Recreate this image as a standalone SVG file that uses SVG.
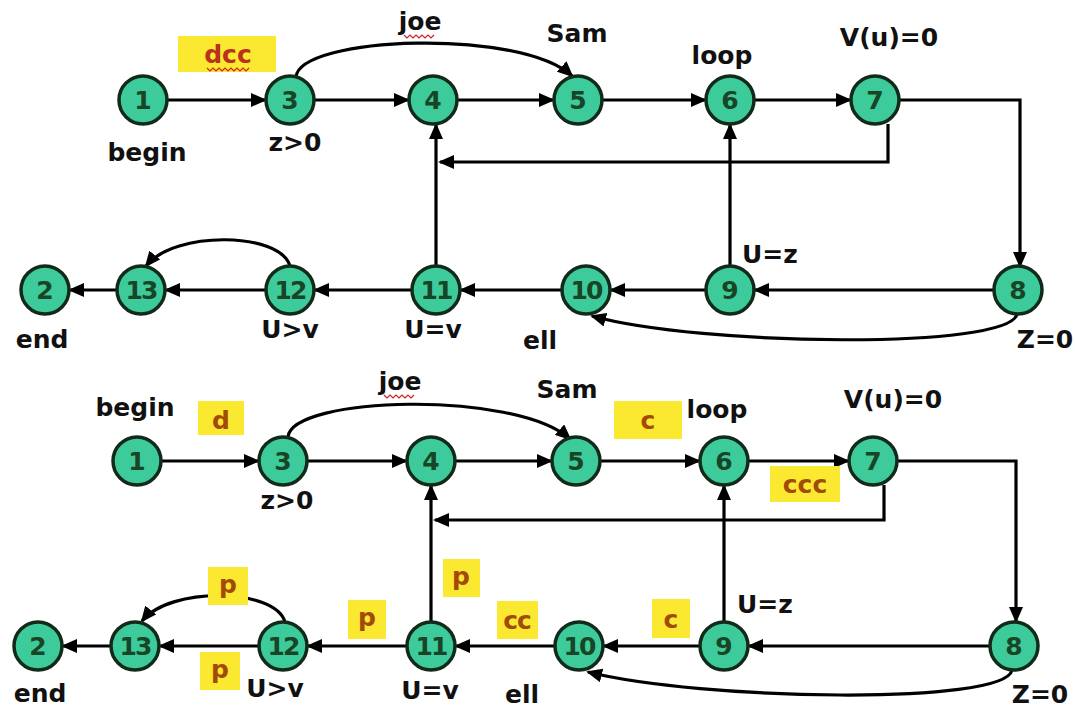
<svg xmlns="http://www.w3.org/2000/svg" width="1075" height="709" viewBox="0 0 1075 709">
<style>
.n circle{fill:#3ecb9c;stroke:#122a1a;stroke-width:3.5}
.n text{font-family:"DejaVu Sans",Verdana,sans-serif;font-weight:bold;font-size:25px;fill:#174526;text-anchor:middle}
.lbl{font-family:"DejaVu Sans",Verdana,sans-serif;font-weight:bold;font-size:25px;fill:#111;text-anchor:middle}
.hl rect{fill:#fbe830}
.hl text{font-family:"DejaVu Sans",Verdana,sans-serif;font-weight:bold;font-size:25px;fill:#a24a0a;text-anchor:middle}
.e{fill:none;stroke:#000;stroke-width:3.2;marker-end:url(#ah)}
.sq{fill:none;stroke:#d02020;stroke-width:1.2}
</style>
<defs>
<marker id="ah" markerWidth="16" markerHeight="14" refX="14" refY="7" orient="auto" markerUnits="userSpaceOnUse">
<path d="M0,0 L16,7 L0,14 Z" fill="#000"/>
</marker>
</defs>
<rect width="1075" height="709" fill="#fff"/>

<g id="connectors">
<!-- top -->
<path class="e" d="M167,100 L265,100"/>
<path class="e" d="M314,100 L408,100"/>
<path class="e" d="M457,100 L553,100"/>
<path class="e" d="M602,100 L705,100"/>
<path class="e" d="M754,100 L850,100"/>
<path class="e" d="M296,77 C300,36 520,28 572,76"/>
<path class="e" d="M899,100 L1020,100 L1020,266"/>
<path class="e" d="M888,124 L888,162 L440,162"/>
<path class="e" d="M436,266 L436,125"/>
<path class="e" d="M730,266 L730,125"/>
<path class="e" d="M994,290 L755,290"/>
<path class="e" d="M706,290 L611,290"/>
<path class="e" d="M562,290 L461,290"/>
<path class="e" d="M412,290 L315,290"/>
<path class="e" d="M266,290 L166,290"/>
<path class="e" d="M117,290 L70,290"/>
<path class="e" d="M290,266 C280,232 175,230 146,266"/>
<path class="e" d="M1017,314 C1010,350 700,346 592,316"/>
<!-- bottom -->
<path class="e" d="M161,461 L258,461"/>
<path class="e" d="M307,461 L406,461"/>
<path class="e" d="M455,461 L551,461"/>
<path class="e" d="M600,461 L699,461"/>
<path class="e" d="M748,461 L848,461"/>
<path class="e" d="M288,437 C292,396 515,390 570,439"/>
<path class="e" d="M897,461 L1016,461 L1016,621"/>
<path class="e" d="M884,485 L884,520 L435,520"/>
<path class="e" d="M431,622 L431,486"/>
<path class="e" d="M724,622 L724,486"/>
<path class="e" d="M990,646 L749,646"/>
<path class="e" d="M700,646 L604,646"/>
<path class="e" d="M555,646 L456,646"/>
<path class="e" d="M407,646 L308,646"/>
<path class="e" d="M259,646 L160,646"/>
<path class="e" d="M111,646 L63,646"/>
<path class="e" d="M285,622 C275,588 170,586 142,621"/>
<path class="e" d="M1012,670 C1005,706 700,700 588,672"/>
</g>

<!-- top diagram nodes -->
<g id="t1" class="n"><circle cx="143" cy="100" r="24"/><text x="143" y="109">1</text></g>
<g id="t3" class="n"><circle cx="290" cy="100" r="24"/><text x="290" y="109">3</text></g>
<g id="t4" class="n"><circle cx="433" cy="100" r="24"/><text x="433" y="109">4</text></g>
<g id="t5" class="n"><circle cx="578" cy="100" r="24"/><text x="578" y="109">5</text></g>
<g id="t6" class="n"><circle cx="730" cy="100" r="24"/><text x="730" y="109">6</text></g>
<g id="t7" class="n"><circle cx="875" cy="100" r="24"/><text x="875" y="109">7</text></g>
<g id="t8" class="n"><circle cx="1018" cy="290" r="24"/><text x="1018" y="299">8</text></g>
<g id="t9" class="n"><circle cx="730" cy="290" r="24"/><text x="730" y="299">9</text></g>
<g id="t10" class="n"><circle cx="586" cy="290" r="24"/><text x="586" y="299" letter-spacing="-2">10</text></g>
<g id="t11" class="n"><circle cx="436" cy="290" r="24"/><text x="436" y="299" letter-spacing="-2">11</text></g>
<g id="t12" class="n"><circle cx="290" cy="290" r="24"/><text x="290" y="299" letter-spacing="-2">12</text></g>
<g id="t13" class="n"><circle cx="141" cy="290" r="24"/><text x="141" y="299" letter-spacing="-2">13</text></g>
<g id="t2" class="n"><circle cx="45" cy="290" r="24"/><text x="45" y="299">2</text></g>

<!-- top labels -->
<g id="t-dcc" class="hl"><rect x="178" y="36" width="98" height="36"/><text x="228" y="63" style="fill:#b8321c">dcc</text><path class="sq" d="M207,68 l3,3 l3,-3 l3,3 l3,-3 l3,3 l3,-3 l3,3 l3,-3 l3,3 l3,-3 l3,3 l3,-3 l3,3 l3,-3"/></g>
<g id="t-labels">
<text class="lbl" x="420" y="30">joe</text>
<path class="sq" d="M404,35 l3,3 l3,-3 l3,3 l3,-3 l3,3 l3,-3 l3,3 l3,-3 l3,3 l3,-3"/>
<text class="lbl" x="577" y="42">Sam</text>
<text class="lbl" x="722" y="64">loop</text>
<text class="lbl" x="889" y="46">V(u)=0</text>
<text class="lbl" x="147" y="161">begin</text>
<text class="lbl" x="295" y="151">z&gt;0</text>
<text class="lbl" x="742" y="263" style="text-anchor:start">U=z</text>
<text class="lbl" x="42" y="348">end</text>
<text class="lbl" x="290" y="338">U&gt;v</text>
<text class="lbl" x="433" y="338">U=v</text>
<text class="lbl" x="540" y="349">ell</text>
<text class="lbl" x="1045" y="348">Z=0</text>
</g>

<!-- bottom diagram nodes -->
<g id="b1" class="n"><circle cx="137" cy="461" r="24"/><text x="137" y="470">1</text></g>
<g id="b3" class="n"><circle cx="283" cy="461" r="24"/><text x="283" y="470">3</text></g>
<g id="b4" class="n"><circle cx="431" cy="461" r="24"/><text x="431" y="470">4</text></g>
<g id="b5" class="n"><circle cx="576" cy="461" r="24"/><text x="576" y="470">5</text></g>
<g id="b6" class="n"><circle cx="724" cy="461" r="24"/><text x="724" y="470">6</text></g>
<g id="b7" class="n"><circle cx="873" cy="461" r="24"/><text x="873" y="470">7</text></g>
<g id="b8" class="n"><circle cx="1014" cy="646" r="24"/><text x="1014" y="655">8</text></g>
<g id="b9" class="n"><circle cx="724" cy="646" r="24"/><text x="724" y="655">9</text></g>
<g id="b10" class="n"><circle cx="579" cy="646" r="24"/><text x="579" y="655" letter-spacing="-2">10</text></g>
<g id="b11" class="n"><circle cx="431" cy="646" r="24"/><text x="431" y="655" letter-spacing="-2">11</text></g>
<g id="b12" class="n"><circle cx="283" cy="646" r="24"/><text x="283" y="655" letter-spacing="-2">12</text></g>
<g id="b13" class="n"><circle cx="135" cy="646" r="24"/><text x="135" y="655" letter-spacing="-2">13</text></g>
<g id="b2" class="n"><circle cx="38" cy="646" r="24"/><text x="38" y="655">2</text></g>

<!-- bottom highlighted labels -->
<g id="b-d" class="hl"><rect x="198" y="401" width="46" height="34"/><text x="221" y="429">d</text></g>
<g id="b-c1" class="hl"><rect x="614" y="401" width="68" height="38"/><text x="648" y="429">c</text></g>
<g id="b-ccc" class="hl"><rect x="770" y="466" width="70" height="36"/><text x="805" y="493">ccc</text></g>
<g id="b-p1" class="hl"><rect x="208" y="567" width="40" height="38"/><text x="228" y="593">p</text></g>
<g id="b-p2" class="hl"><rect x="443" y="559" width="37" height="38"/><text x="461" y="585">p</text></g>
<g id="b-p3" class="hl"><rect x="348" y="600" width="38" height="39"/><text x="367" y="626">p</text></g>
<g id="b-p4" class="hl"><rect x="200" y="652" width="40" height="38"/><text x="220" y="678">p</text></g>
<g id="b-cc" class="hl"><rect x="497" y="601" width="41" height="38"/><text x="517" y="629" letter-spacing="-1">cc</text></g>
<g id="b-c2" class="hl"><rect x="652" y="599" width="38" height="39"/><text x="671" y="628">c</text></g>

<g id="b-labels">
<text class="lbl" x="135" y="416">begin</text>
<text class="lbl" x="400" y="390">joe</text>
<path class="sq" d="M384,395 l3,3 l3,-3 l3,3 l3,-3 l3,3 l3,-3 l3,3 l3,-3 l3,3 l3,-3"/>
<text class="lbl" x="567" y="398">Sam</text>
<text class="lbl" x="717" y="418">loop</text>
<text class="lbl" x="893" y="408">V(u)=0</text>
<text class="lbl" x="287" y="509">z&gt;0</text>
<text class="lbl" x="737" y="613" style="text-anchor:start">U=z</text>
<text class="lbl" x="40" y="702">end</text>
<text class="lbl" x="275" y="697">U&gt;v</text>
<text class="lbl" x="430" y="699">U=v</text>
<text class="lbl" x="522" y="703">ell</text>
<text class="lbl" x="1040" y="703">Z=0</text>
</g>
</svg>
